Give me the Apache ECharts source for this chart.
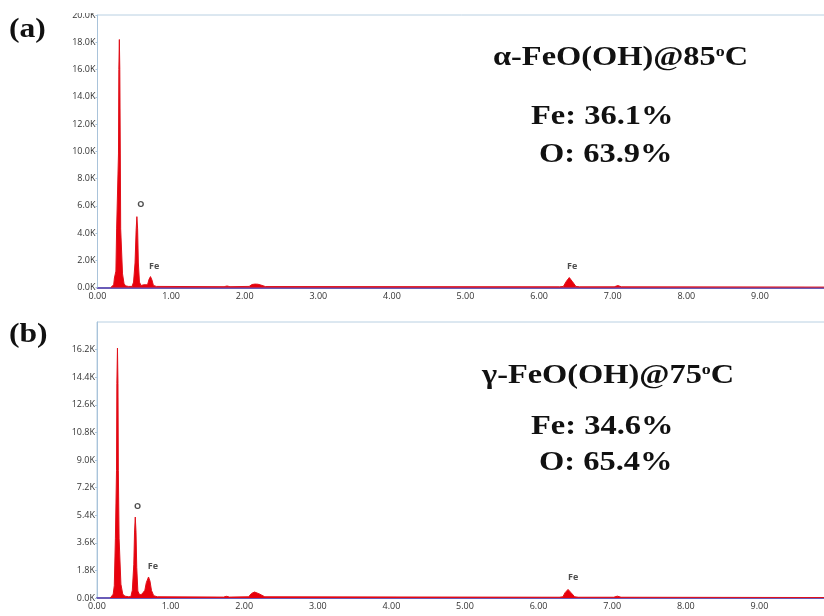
<!DOCTYPE html>
<html><head><meta charset="utf-8">
<script src="https://cdn.jsdelivr.net/npm/echarts@6/dist/echarts.min.js"></script>
<style>html,body{margin:0;padding:0;background:#fff}#c{width:824px;height:616px}</style>
</head><body><div id="c"></div>
<script>
// Panel (a) spectrum: energy (keV) and counts
const energyA = [0.18,0.20,0.22,0.23,0.25,0.26,0.28,0.285,0.29,0.297,0.303,0.31,0.315,0.33,0.34,0.36,0.38,0.42,
  0.47,0.49,0.51,0.525,0.535,0.545,0.555,0.57,0.59,0.63,0.65,
  0.68,0.70,0.72,0.74,0.76,0.80,
  1.72,1.76,1.80,
  2.06,2.10,2.14,2.18,2.22,2.28,
  6.28,6.33,6.37,6.41,6.45,6.50,6.55,
  7.02,7.07,7.12,9.95];
const countsA = [0,60,200,700,1200,4300,4400,9800,16000,18200,16000,9800,4300,4200,1000,300,120,80,
  80,400,1800,4200,5200,4300,1800,400,150,200,150,
  200,600,800,550,150,80,
  60,110,60,
  80,220,250,240,180,70,
  50,80,450,730,450,80,50,
  50,140,50,30];
// Panel (b) spectrum
const energyB = [0.18,0.20,0.22,0.235,0.25,0.26,0.265,0.27,0.278,0.285,0.29,0.30,0.315,0.325,0.35,0.38,0.43,
  0.46,0.48,0.50,0.51,0.52,0.53,0.54,0.555,0.58,0.61,0.63,
  0.65,0.67,0.70,0.72,0.74,0.77,0.82,
  1.72,1.76,1.80,
  2.06,2.10,2.14,2.20,2.28,
  6.28,6.33,6.36,6.40,6.44,6.49,6.54,
  7.02,7.07,7.12,9.95];
const countsB = [0,60,250,800,3900,4000,8300,14000,16300,14000,8300,3900,3800,900,250,120,80,
  90,500,2200,4300,5280,4300,2000,450,200,250,300,
  500,1000,1370,1100,500,150,80,
  60,110,60,
  80,300,390,280,80,
  50,80,350,560,350,80,50,
  50,120,50,30];
// Peak labels
const peakNamesA = ['O','Fe','Fe'];
const peakXA = [0.59,0.77,6.45];
const peakYA = [6100,1570,1570];
const peakNamesB = ['O','Fe','Fe'];
const peakXB = [0.55,0.76,6.47];
const peakYB = [6000,2080,1370];
// Axis settings
const xMax = 10, xInterval = 1;
const yMaxA = 20000, yIntervalA = 2000;
const yMaxB = 18000, yIntervalB = 1800;
// Annotation texts
const titleA = ['α-FeO(OH)@85','o','C'];
const compA = ['Fe: 36.1%','O: 63.9%'];
const titleB = ['γ-FeO(OH)@75','o','C'];
const compB = ['Fe: 34.6%','O: 65.4%'];

const chart = echarts.init(document.getElementById('c'), null, {renderer:'canvas'});
const pairs = (xs, ys) => xs.map((x,i)=>[x, ys[i]]);
const labPts = (n,xs,ys) => n.map((s,i)=>({name:s, value:[xs[i], ys[i]]}));

function xAxis(gi){
  return {type:'value', gridIndex:gi, min:0, max:xMax, interval:xInterval,
    axisLine:{show:true, onZero:false, lineStyle:{color:'#6a5cb8', width:2}},
    axisTick:{show:false}, splitLine:{show:false},
    axisLabel:{fontSize:9, color:'#333', margin:4, fontFamily:'Open Sans', showMaxLabel:false, formatter:v=>v.toFixed(2)}};
}
function yAxis(gi,max,iv,showMax){
  return {type:'value', gridIndex:gi, min:0, max:max, interval:iv,
    axisLine:{show:true, lineStyle:{color:'#a9c3da', width:1}},
    axisTick:{show:true, length:2, lineStyle:{color:'#a9c3da'}}, splitLine:{show:false},
    axisLabel:{fontSize:9, color:'#333', margin:2, fontFamily:'Open Sans', showMaxLabel:showMax,
      formatter:v=>(v/1000).toFixed(1)+'K'}};
}
function spec(gi,data){
  return {type:'line', xAxisIndex:gi, yAxisIndex:gi, data:data, showSymbol:false, symbol:'none',
    lineStyle:{color:'#e0101a', width:1}, areaStyle:{color:'#e8000c', opacity:1}, z:3, animation:false};
}
function labs(gi,data){
  return {type:'scatter', xAxisIndex:gi, yAxisIndex:gi, data:data, symbolSize:0, animation:false, z:5,
    label:{show:true, position:'inside', formatter:p=>p.name, fontSize:9, fontWeight:'bold', color:'#222', fontFamily:'Open Sans'}};
}
function txt(x, y, text, size, sx, extra){
  return {type:'text', x:x, y:y, scaleX:sx, z:10, style:Object.assign({
    text:text, font:'bold '+size+'px "Liberation Serif"', fill:'#111', verticalAlign:'middle', align:'left'}, extra||{})};
}
function textBlock(tx, ty, fy, oy, title, comp){
  return [
    txt(tx, ty, title[0]+'{sup|'+title[1]+'}'+title[2], 27, 1.2,
      {rich:{sup:{fontSize:15, fontWeight:'bold', fontFamily:'Liberation Serif', verticalAlign:'top', fill:'#111'}}}),
    txt(531, fy, comp[0], 28, 1.16),
    txt(539, oy, comp[1], 28, 1.16)
  ];
}

chart.setOption({
  animation:false,
  backgroundColor:'#fff',
  grid:[
    {left:97.5, top:15, width:736, height:272.5, show:true, borderColor:'#b9d0e2', borderWidth:1, containLabel:false, outerBoundsMode:'none'},
    {left:97, top:322, width:736, height:276, show:true, borderColor:'#b9d0e2', borderWidth:1, containLabel:false, outerBoundsMode:'none'}
  ],
  xAxis:[xAxis(0), xAxis(1)],
  yAxis:[yAxis(0,yMaxA,yIntervalA,true), yAxis(1,yMaxB,yIntervalB,false)],
  series:[
    spec(0, pairs(energyA,countsA)), labs(0, labPts(peakNamesA,peakXA,peakYA)),
    spec(1, pairs(energyB,countsB)), labs(1, labPts(peakNamesB,peakXB,peakYB))
  ],
  graphic:[
    {type:'rect', x:55, y:0, shape:{width:42, height:13}, style:{fill:'#fff'}, z:20},
    txt(9, 30, '(a)', 27, 1.17),
    txt(9, 335, '(b)', 27, 1.17),
    ...textBlock(493, 58, 117, 155, titleA, compA),
    ...textBlock(482, 376, 427, 463, titleB, compB)
  ]
});
</script></body></html>
